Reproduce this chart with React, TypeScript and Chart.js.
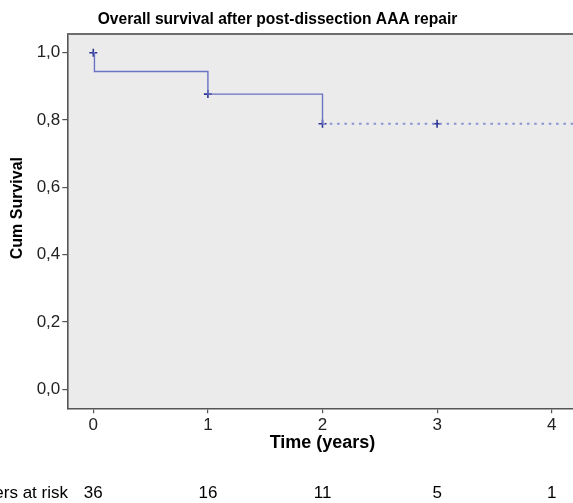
import React, { useEffect, useRef } from "react";
import { Chart, registerables } from "chart.js";

Chart.register(...registerables);

// ---- data ----
const kmTimes = [0, 0.01, 1.0, 2.0];
const kmSurvival = [1.0, 0.944, 0.877, 0.789];
const tailTimes = [2.0, 4.45];
const tailSurvival = [0.789, 0.789];
const censorTimes = [0, 1.0, 2.0, 3.0];
const censorSurvival = [1.0, 0.877, 0.789, 0.789];
const xTickValues = [0, 1, 2, 3, 4];
const yTickValues = [0, 0.2, 0.4, 0.6, 0.8, 1.0];
const atRiskTimes = [0, 1, 2, 3, 4];
const atRiskCounts = ["36", "16", "11", "5", "1"];
const titleText = "Overall survival after post-dissection AAA repair";
const xTitle = "Time (years)";
const yTitle = "Cum Survival";
const atRiskLabel = "Numbers at risk";

const FONT = "'Liberation Sans', Arial, Helvetica, sans-serif";
const OFFSET_X = 100; // canvas extends beyond left edge of the visible frame
const CANVAS_W = 720;
const CANVAS_H = 503;

export default function App() {
  const ref = useRef<HTMLCanvasElement | null>(null);

  useEffect(() => {
    const canvas = ref.current;
    if (!canvas) return;

    const framePlugin = {
      id: "frame",
      beforeDraw(chart: any) {
        const { ctx, chartArea } = chart;
        ctx.save();
        ctx.fillStyle = "#ebebeb";
        ctx.fillRect(
          chartArea.left,
          chartArea.top,
          chartArea.right - chartArea.left,
          chartArea.bottom - chartArea.top
        );
        ctx.restore();
      },
      afterDraw(chart: any) {
        const { ctx, chartArea } = chart;
        const xs = chart.scales.x;
        ctx.save();
        // top border
        ctx.strokeStyle = "#6e6e6e";
        ctx.lineWidth = 2;
        ctx.beginPath();
        ctx.moveTo(chartArea.left, chartArea.top);
        ctx.lineTo(chartArea.right, chartArea.top);
        ctx.stroke();

        ctx.fillStyle = "#000";
        // title
        ctx.font = `bold 15.6px ${FONT}`;
        ctx.textAlign = "center";
        ctx.textBaseline = "alphabetic";
        ctx.fillText(titleText, OFFSET_X + 277.5, 24);

        // x axis title
        ctx.font = `bold 18px ${FONT}`;
        ctx.fillText(xTitle, xs.getPixelForValue(2), 447.5);

        // y axis title
        ctx.save();
        ctx.translate(OFFSET_X + 22, (chartArea.top + chartArea.bottom) / 2 - 13);
        ctx.rotate(-Math.PI / 2);
        ctx.font = `bold 16px ${FONT}`;
        ctx.textAlign = "center";
        ctx.fillText(yTitle, 0, 0);
        ctx.restore();

        // numbers at risk
        ctx.font = `17px ${FONT}`;
        ctx.textAlign = "right";
        ctx.fillText(atRiskLabel, OFFSET_X + 68, 498);
        ctx.textAlign = "center";
        atRiskTimes.forEach((t, i) => {
          ctx.fillText(atRiskCounts[i], xs.getPixelForValue(t), 498);
        });
        ctx.restore();
      },
    };

    const chart = new Chart(canvas, {
      type: "line",
      data: {
        datasets: [
          {
            label: "KM",
            data: kmTimes.map((t, i) => ({ x: t, y: kmSurvival[i] })),
            borderColor: "#6a72c4",
            borderWidth: 1.4,
            stepped: "before",
            pointRadius: 0,
            fill: false,
          },
          {
            label: "tail",
            data: tailTimes.map((t, i) => ({ x: t, y: tailSurvival[i] })),
            borderColor: "#8b92d2",
            borderWidth: 2,
            borderDash: [2.5, 4.8],
            pointRadius: 0,
            fill: false,
          },
          {
            label: "censored",
            data: censorTimes.map((t, i) => ({ x: t, y: censorSurvival[i] })),
            showLine: false,
            pointStyle: "cross",
            pointRadius: 4,
            pointBorderColor: "#2c3592",
            pointBorderWidth: 1.6,
            borderColor: "#2c3592",
          },
        ],
      },
      options: {
        responsive: false,
        animation: false,
        devicePixelRatio: 1,
        layout: {
          padding: { left: 0, right: 15, top: 34, bottom: 54.7 },
        },
        plugins: {
          legend: { display: false },
          title: { display: false },
          tooltip: { enabled: false },
        },
        scales: {
          x: {
            type: "linear",
            min: -0.2269,
            max: 4.465,
            afterFit: (s: any) => {
              s.height = 40;
            },
            afterBuildTicks: (s: any) => {
              s.ticks = xTickValues.map((v) => ({ value: v }));
            },
            grid: {
              drawOnChartArea: false,
              drawTicks: true,
              tickLength: 5,
              color: "#555",
              lineWidth: 1.2,
            },
            border: { display: true, color: "#555", width: 1.6 },
            ticks: {
              color: "#222",
              font: { family: FONT, size: 17 },
              padding: 2,
              maxRotation: 0,
              callback: (v: any) => String(v),
            },
          },
          y: {
            type: "linear",
            min: -0.0565,
            max: 1.0556,
            afterFit: (s: any) => {
              s.width = OFFSET_X + 67.3;
            },
            afterBuildTicks: (s: any) => {
              s.ticks = yTickValues.map((v) => ({ value: v }));
            },
            grid: {
              drawOnChartArea: false,
              drawTicks: true,
              tickLength: 5,
              color: "#555",
              lineWidth: 1.2,
            },
            border: { display: true, color: "#555", width: 1.6 },
            ticks: {
              color: "#222",
              font: { family: FONT, size: 17 },
              padding: 2,
              callback: (v: any) => Number(v).toFixed(1).replace(".", ","),
            },
          },
        },
      },
      plugins: [framePlugin],
    });

    return () => chart.destroy();
  }, []);

  return (
    <div
      style={{
        position: "fixed",
        left: 0,
        top: 0,
        width: 573,
        height: 503,
        overflow: "hidden",
        background: "#fff",
      }}
    >
      <canvas
        ref={ref}
        width={CANVAS_W}
        height={CANVAS_H}
        style={{
          position: "absolute",
          left: -OFFSET_X,
          top: 0,
          width: CANVAS_W,
          height: CANVAS_H,
        }}
      />
    </div>
  );
}
